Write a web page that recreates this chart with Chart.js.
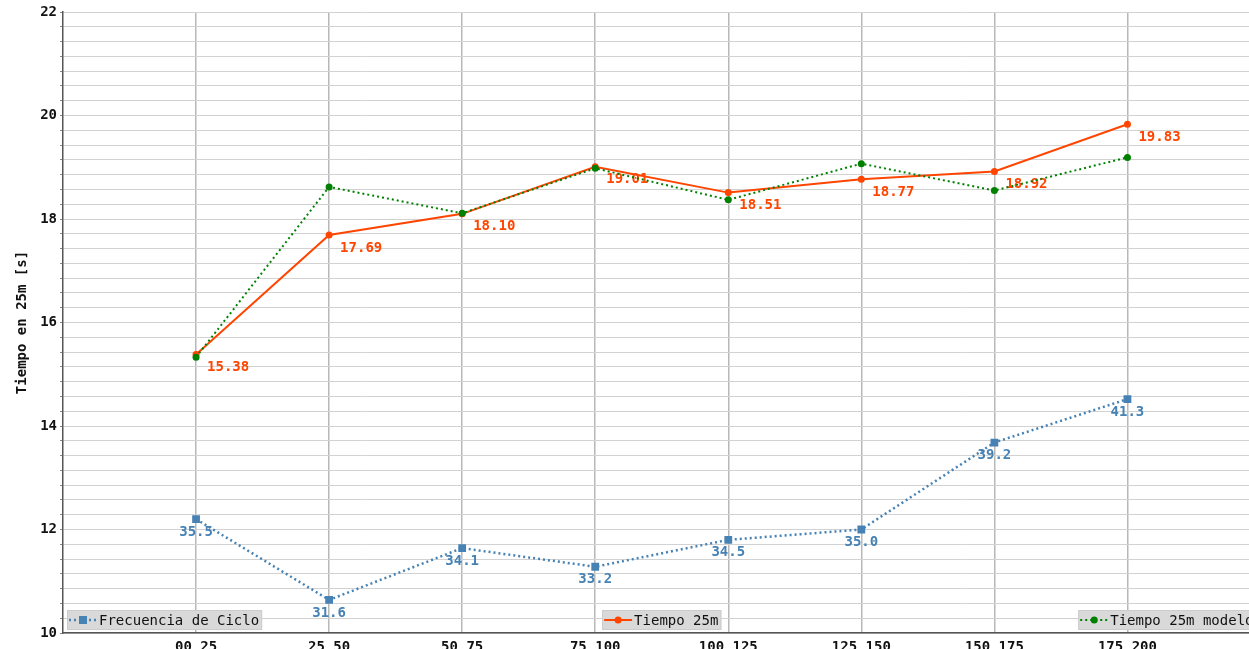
<!DOCTYPE html>
<html>
<head>
<meta charset="utf-8">
<script src="https://cdn.jsdelivr.net/npm/chart.js@4/dist/chart.umd.min.js"></script>
<style>
  html, body { margin: 0; padding: 0; background: #fff; overflow: hidden; }
  #wrap { width: 1249px; height: 649px; overflow: hidden; }
  canvas { display: block; }
</style>
</head>
<body>
<div id="wrap"><canvas id="chart" width="1266" height="670"></canvas></div>
<script>
// datos
const categories = ['00_25', '25_50', '50_75', '75_100', '100_125', '125_150', '150_175', '175_200'];
const frecuenciaCiclo = [35.5, 31.6, 34.1, 33.2, 34.5, 35.0, 39.2, 41.3];
const tiempo25m = [15.38, 17.69, 18.10, 19.01, 18.51, 18.77, 18.92, 19.83];
const tiempo25mModelo = [15.33, 18.62, 18.11, 18.98, 18.37, 19.07, 18.55, 19.19];
const yTickLabels = [10, 12, 14, 16, 18, 20, 22];

const FONT = "'DejaVu Sans Mono', monospace";
const toPoints = arr => arr.map((v, i) => ({ x: i, y: v }));

// etiquetas de valores
const valueLabels = {
  id: 'valueLabels',
  afterDatasetDraw(chart, args) {
    const ds = chart.data.datasets[args.index];
    if (!ds.labelMode) return;
    const ctx = chart.ctx;
    ctx.save();
    ctx.font = 'bold 14px ' + FONT;
    ctx.fillStyle = ds.borderColor;
    ctx.textBaseline = 'middle';
    args.meta.data.forEach((pt, i) => {
      const v = ds.data[i].y;
      if (ds.labelMode === 'right') {
        ctx.textAlign = 'left';
        ctx.fillText(v.toFixed(2), pt.x + 11, pt.y + 13);
      } else {
        ctx.textAlign = 'center';
        ctx.fillText(v.toFixed(1), pt.x, pt.y + 13);
      }
    });
    ctx.restore();
  }
};

// leyendas separadas
const splitLegends = {
  id: 'splitLegends',
  afterDraw(chart) {
    const ctx = chart.ctx;
    const area = chart.chartArea;
    const order = ['left', 'center', 'right'];
    ctx.save();
    ctx.font = '14px ' + FONT;
    chart.data.datasets.forEach((ds, k) => {
      const textW = ctx.measureText(ds.label).width;
      const w = 32 + textW + 3;
      const h = 20;
      let x;
      if (order[k] === 'left') x = area.left + 4;
      else if (order[k] === 'center') x = (area.left + area.right) / 2 - w / 2;
      else x = area.right - 4 - w;
      const y = area.bottom - 3 - h;
      ctx.fillStyle = '#d9d9d9';
      ctx.strokeStyle = '#cccccc';
      ctx.lineWidth = 1;
      ctx.fillRect(x, y, w, h);
      ctx.strokeRect(x + 0.5, y + 0.5, w - 1, h - 1);
      const cy = y + h / 2;
      ctx.strokeStyle = ds.borderColor;
      ctx.lineWidth = ds.borderWidth;
      ctx.setLineDash(ds.borderDash || []);
      ctx.beginPath();
      ctx.moveTo(x + 2, cy);
      ctx.lineTo(x + 30, cy);
      ctx.stroke();
      ctx.setLineDash([]);
      ctx.fillStyle = ds.borderColor;
      if (ds.pointStyle === 'rect') {
        ctx.fillRect(x + 16 - 4, cy - 4, 8, 8);
      } else {
        ctx.beginPath();
        ctx.arc(x + 16, cy, 3.5, 0, Math.PI * 2);
        ctx.fill();
      }
      ctx.fillStyle = '#111';
      ctx.textBaseline = 'middle';
      ctx.textAlign = 'left';
      ctx.fillText(ds.label, x + 32, cy + 1);
    });
    ctx.restore();
  }
};

const ctx = document.getElementById('chart').getContext('2d');
new Chart(ctx, {
  type: 'line',
  data: {
    datasets: [
      {
        label: 'Frecuencia de Ciclo',
        data: toPoints(frecuenciaCiclo),
        yAxisID: 'y1',
        borderColor: '#4682b4',
        backgroundColor: '#4682b4',
        borderWidth: 2.5,
        borderDash: [2, 3],
        pointStyle: 'rect',
        pointRadius: 5.5,
        pointBorderWidth: 0,
        order: 2,
        labelMode: 'below'
      },
      {
        label: 'Tiempo 25m',
        data: toPoints(tiempo25m),
        yAxisID: 'y',
        borderColor: '#ff4500',
        backgroundColor: '#ff4500',
        borderWidth: 2,
        pointRadius: 3.5,
        pointBorderWidth: 0,
        order: 1,
        labelMode: 'right'
      },
      {
        label: 'Tiempo 25m modelo',
        data: toPoints(tiempo25mModelo),
        yAxisID: 'y',
        borderColor: '#008000',
        backgroundColor: '#008000',
        borderWidth: 2,
        borderDash: [2, 3],
        pointRadius: 3.5,
        pointBorderWidth: 0,
        order: 0
      }
    ]
  },
  options: {
    responsive: false,
    animation: false,
    events: [],
    layout: { padding: { top: 12, right: 4, left: 0, bottom: 0 } },
    plugins: {
      legend: { display: false },
      tooltip: { enabled: false }
    },
    scales: {
      x: {
        type: 'linear',
        min: -1,
        max: 8,
        afterBuildTicks: scale => {
          scale.ticks = categories.map((_, i) => ({ value: i }));
        },
        afterFit: scale => { scale.height = 37; },
        ticks: {
          autoSkip: false,
          maxRotation: 0,
          padding: 6,
          color: '#111',
          font: { family: FONT, size: 14, weight: 'bold' },
          callback: v => categories[v] ?? ''
        },
        grid: { color: '#b8b8b8', lineWidth: 1.5, drawTicks: false },
        border: { color: '#555', width: 1.5 }
      },
      y: {
        type: 'linear',
        position: 'left',
        min: 10,
        max: 22,
        afterBuildTicks: scale => {
          const n = (yTickLabels.length - 1) * 7;
          const ticks = [];
          for (let i = 0; i <= n; i++) ticks.push({ value: 10 + i * 12 / n });
          scale.ticks = ticks;
        },
        afterFit: scale => { scale.width = 63; },
        ticks: {
          autoSkip: false,
          padding: 3,
          color: '#111',
          font: { family: FONT, size: 14, weight: 'bold' },
          callback: v => {
            const hit = yTickLabels.find(t => Math.abs(t - v) < 1e-6);
            return hit !== undefined ? String(hit) : '';
          }
        },
        grid: { color: '#d2d2d2', lineWidth: 1, tickLength: 3, tickColor: '#888' },
        border: { color: '#555', width: 1.5 },
        title: {
          display: true,
          text: 'Tiempo en 25m [s]',
          color: '#111',
          padding: { top: 14, bottom: 4 },
          font: { family: FONT, size: 14, weight: 'bold' }
        }
      },
      y1: {
        type: 'linear',
        position: 'right',
        display: false,
        min: 30,
        max: 60
      }
    }
  },
  plugins: [valueLabels, splitLegends]
});
</script>
</body>
</html>
